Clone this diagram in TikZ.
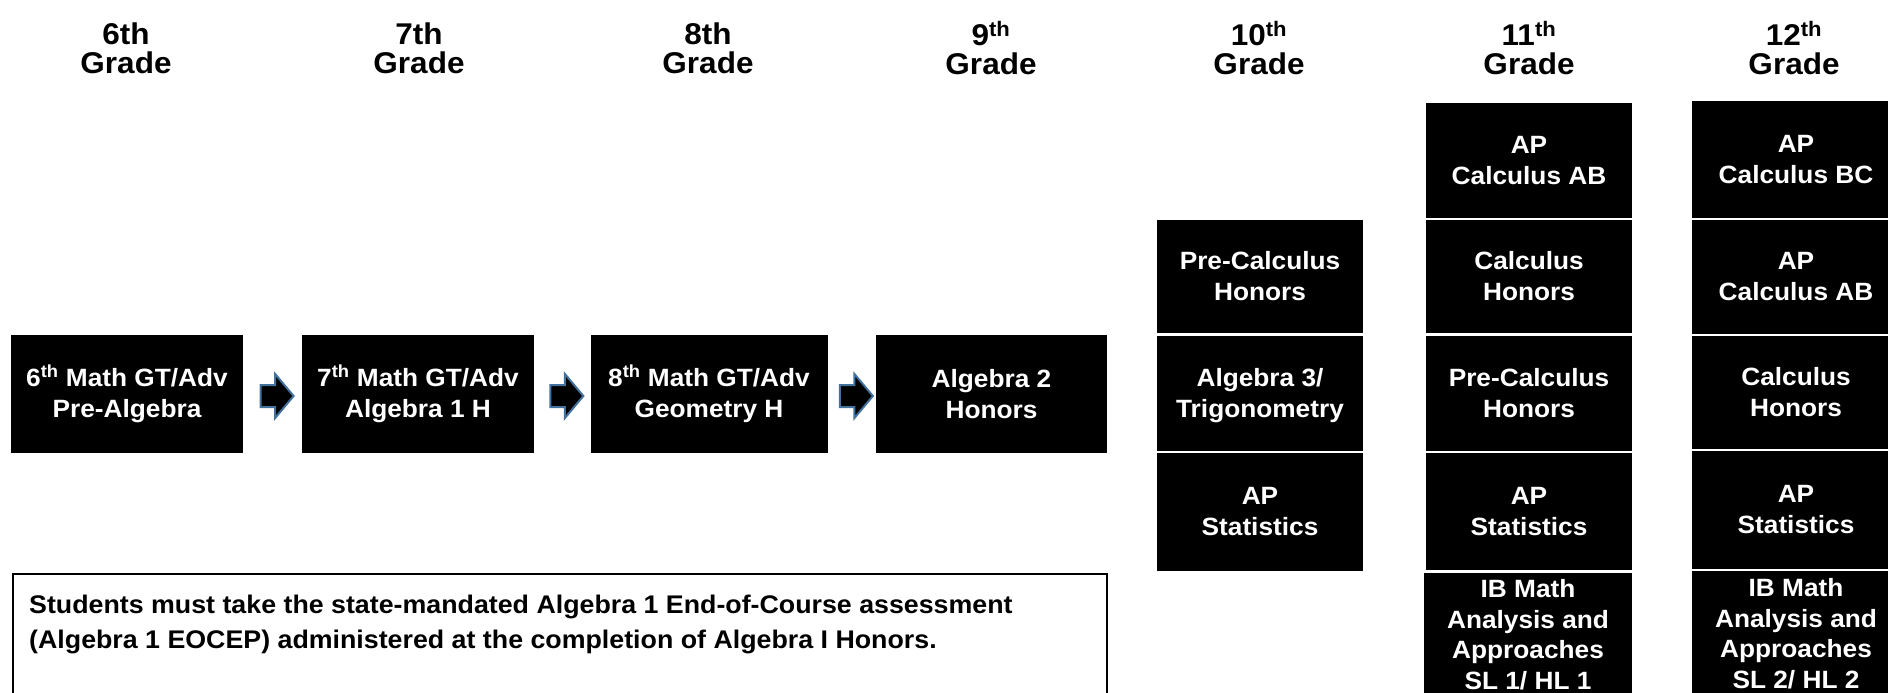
\documentclass[tikz,border=0pt]{standalone}
\usepackage{fontspec}
\setmainfont{Liberation Sans}[FakeStretch=1.05]
\usetikzlibrary{shapes.arrows,calc}
\definecolor{arrowblue}{RGB}{65,113,156}
\newcommand\coursefont{\fontsize{25}{31}\selectfont\bfseries}
\newcommand\ibfont{\fontsize{25}{30.5}\selectfont\bfseries}
\newcommand\gradefont{\fontsize{30}{29}\selectfont\bfseries}
\newcommand\notefont{\fontsize{25.5}{35}\selectfont\bfseries}
\newcommand\suth{\textsuperscript{th}}
\tikzset{
  course/.style={fill=black, text=white, font=\coursefont, align=center, inner sep=0pt},
  ibcourse/.style={course, font=\ibfont},
  grade/.style={font=\gradefont, align=center, inner sep=0pt, text=black},
  nextarrow/.style={single arrow, fill=black, draw=arrowblue, line width=2pt,
    minimum height=33pt, minimum width=43pt, inner xsep=0pt, inner ysep=10pt,
    single arrow head extend=11pt, single arrow tip angle=100,
    text height=0pt, text depth=0pt},
  noteframe/.style={draw=black, line width=2pt, anchor=north west, inner sep=0pt,
    minimum width=1094pt, minimum height=140pt},
  notetext/.style={font=\notefont, align=left, anchor=north west, inner sep=0pt},
}
\begin{document}
\begin{tikzpicture}[x=1pt,y=-1pt]
\useasboundingbox (0,0) rectangle (1888,693);
\begin{scope}
\clip (0,0) rectangle (1888,693);
% grade headings
\node[grade] (g6)  at (126,48.5)  {6th\\Grade};
\node[grade] (g7)  at (419,48.5)  {7th\\Grade};
\node[grade] (g8)  at (708,48.5)  {8th\\Grade};
\node[grade] (g9)  at (991,48.5)  {9\suth\\Grade};
\node[grade] (g10) at (1259,48.5) {10\suth\\Grade};
\node[grade] (g11) at (1529,48.5) {11\suth\\Grade};
\node[grade] (g12) at (1794,48.5) {12\suth\\Grade};
% main row
\node[course, minimum width=232pt, minimum height=118pt] (b6) at (127,394) {6\suth{} Math GT/Adv\\Pre-Algebra};
\node[course, minimum width=232pt, minimum height=118pt] (b7) at (418,394) {7\suth{} Math GT/Adv\\Algebra 1 H};
\node[course, minimum width=237pt, minimum height=118pt] (b8) at (709,394) {8\suth{} Math GT/Adv\\Geometry H};
\node[course, minimum width=231pt, minimum height=118pt] (b9) at (991.5,394) {Algebra 2\\Honors};
\node[nextarrow] (a1) at ($(b6.east)!0.5!(b7.west)+(0,2)$) {};
\node[nextarrow] (a2) at ($(b7.east)!0.5!(b8.west)+(0,2)$) {};
\node[nextarrow] (a3) at ($(b8.east)!0.5!(b9.west)+(0,2)$) {};
% 10th grade
\node[course, minimum width=206pt, minimum height=113pt] (pc10) at (1260,276.5) {Pre-Calculus\\Honors};
\node[course, minimum width=206pt, minimum height=115pt] (tr10) at (1260,393.5) {\strut Algebra 3/\\Trigonometry};
\node[course, minimum width=206pt, minimum height=118pt] (st10) at (1260,512) {AP\\Statistics};
% 11th grade
\node[course, minimum width=206pt, minimum height=115pt] (ab11) at (1529,160.5) {AP\\Calculus AB};
\node[course, minimum width=206pt, minimum height=113pt] (ch11) at (1529,276.5) {Calculus\\Honors};
\node[course, minimum width=206pt, minimum height=115pt] (pc11) at (1529,393.5) {Pre-Calculus\\Honors};
\node[course, minimum width=206pt, minimum height=117pt] (st11) at (1529,511.5) {AP\\Statistics};
\node[ibcourse, minimum width=208pt, minimum height=123pt] (ib11) at (1528,634.5) {IB Math\\Analysis and\\Approaches\\SL 1/ HL 1};
% 12th grade
\node[course, minimum width=208pt, minimum height=117pt] (bc12) at (1796,159.5) {AP\\Calculus BC};
\node[course, minimum width=208pt, minimum height=114pt] (ab12) at (1796,277) {AP\\Calculus AB};
\node[course, minimum width=208pt, minimum height=113pt] (ch12) at (1796,392.5) {Calculus\\Honors};
\node[course, minimum width=208pt, minimum height=118pt] (st12) at (1796,510) {AP\\Statistics};
\node[ibcourse, minimum width=208pt, minimum height=125pt] (ib12) at (1796,633.5) {IB Math\\Analysis and\\Approaches\\SL 2/ HL 2};
% note
\node[noteframe] (noteframe) at (12,573) {};
\node[notetext] (note) at (29,595) {Students must take the state-mandated Algebra 1 End-of-Course assessment\\(Algebra 1 EOCEP) administered at the completion of Algebra I Honors.};
\end{scope}
\end{tikzpicture}
\end{document}
